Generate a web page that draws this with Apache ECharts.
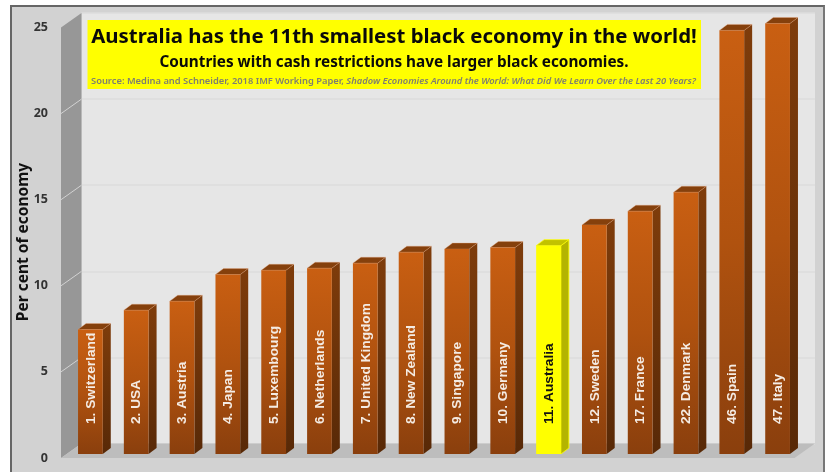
<!DOCTYPE html>
<html>
<head>
<meta charset="utf-8">
<style>
  html, body { margin: 0; padding: 0; background: #fff; }
  #panel { position: absolute; left: 10px; top: 5px; width: 811px; height: 480px; background: #d2d2d2; border: 2px solid #666; border-right-color: #777; box-sizing: content-box; }
  #stage { position: absolute; left: 0; top: 0; width: 827px; height: 472px; overflow: hidden; }
  #chart { position: absolute; left: 0; top: 0; width: 827px; height: 472px; }
</style>
</head>
<body>
<div id="stage"><div id="panel"></div><div id="chart"></div></div>
<script src="https://cdn.jsdelivr.net/npm/echarts@6/dist/echarts.min.js"></script>
<script>
// Shadow economy size by country, ranked; the number in each name is the world rank.
const categories = ['1. Switzerland', '2. USA', '3. Austria', '4. Japan', '5. Luxembourg', '6. Netherlands',
  '7. United Kingdom', '8. New Zealand', '9. Singapore', '10. Germany', '11. Australia', '12. Sweden',
  '17. France', '22. Denmark', '46. Spain', '47. Italy'];
const values = [7.23, 8.35, 8.87, 10.42, 10.67, 10.79, 11.08, 11.72, 11.9, 11.99, 12.1, 13.3, 14.1, 15.2, 24.6, 25.0];
const highlighted = '11. Australia';
const yTicks = [5, 10, 15, 20];
const axisTitle = 'Per cent of economy';
const headline = 'Australia has the 11th smallest black economy in the world!';
const subhead = 'Countries with cash restrictions have larger black economies.';
const sourcePlain = 'Source: Medina and Schneider, 2018 IMF Working Paper, ';
const sourceItalic = 'Shadow Economies Around the World: What Did We Learn Over the Last 20 Years?';

// Pseudo-3D box: three planes, front axis, bar plane and back wall, offset from one another.
const front = { left: 61, top: 27.5, width: 733.5, height: 430.5 };
const wallShift = [20.5, -14.5];
const barDepth = [8, -6];

const chart = echarts.init(document.getElementById('chart'), null, { renderer: 'canvas' });

function renderBox(params, api) {
  // Side wall and floor of the box, from the front plane to the back wall.
  const a = api.coord([0, 0]), b = api.coord([0, 25]), c = api.coord([1, 0]);
  const s = wallShift;
  const children = [
    { type: 'polygon', shape: { points: [a, b, [b[0] + s[0], b[1] + s[1]], [a[0] + s[0], a[1] + s[1]]] }, style: { fill: '#979797' } },
    { type: 'polygon', shape: { points: [a, c, [c[0] + s[0], c[1] + s[1]], [a[0] + s[0], a[1] + s[1]]] }, style: { fill: '#bdbdbd' } }
  ];
  yTicks.forEach(function (t) {
    const p = api.coord([0, t]);
    children.push({ type: 'line', shape: { x1: p[0], y1: p[1], x2: p[0] + s[0], y2: p[1] + s[1] }, style: { stroke: '#d2d2d2', lineWidth: 1 } });
  });
  return { type: 'group', children: children };
}

function renderBar(params, api) {
  const idx = api.value(0), val = api.value(1);
  const isHi = categories[idx] === highlighted;
  const top = api.coord([idx, val]), base = api.coord([idx, 0]);
  const w = api.size([1, 0])[0] * 0.54;
  const L = top[0] - w / 2, R = top[0] + w / 2, T = top[1], B = base[1];
  const dx = barDepth[0], dy = barDepth[1];
  const frontFill = isHi ? '#ffff00' : new echarts.graphic.LinearGradient(0, 0, 0, 1, [
    { offset: 0, color: '#c95f12' }, { offset: 0.5, color: '#b0520f' }, { offset: 1, color: '#8a3f0d' }]);
  const sideFill = isHi ? '#b4b400' : new echarts.graphic.LinearGradient(0, 0, 0, 1, [
    { offset: 0, color: '#7e3c0b' }, { offset: 1, color: '#582907' }]);
  const topFill = isHi ? '#c2c200' : '#85400c';
  const edge = isHi ? '#ffff00' : 'rgba(235,170,130,0.5)';
  return {
    type: 'group',
    children: [
      { type: 'polygon', shape: { points: [[R, T], [R, B], [R + dx, B + dy], [R + dx, T + dy]] }, style: { fill: sideFill, stroke: isHi ? edge : null, lineWidth: 0.8 } },
      { type: 'polygon', shape: { points: [[L, T], [R, T], [R + dx, T + dy], [L + dx, T + dy]] }, style: { fill: topFill, stroke: edge, lineWidth: 0.7 } },
      { type: 'rect', shape: { x: L, y: T, width: w, height: B - T }, style: { fill: frontFill } },
      {
        type: 'text', x: top[0] + 0.5, y: B - 30, rotation: Math.PI / 2,
        style: {
          text: categories[idx], fill: isHi ? '#111' : '#f4ebe3',
          font: 'bold 13.7px "Liberation Sans", Arial, sans-serif',
          align: 'left', verticalAlign: 'middle'
        }
      }
    ]
  };
}

chart.setOption({
  animation: false,
  backgroundColor: 'transparent',
  grid: [
    Object.assign({ containLabel: false }, front),
    { left: front.left + wallShift[0], top: front.top + wallShift[1], width: front.width, height: front.height,
      show: true, backgroundColor: '#e6e6e6', borderWidth: 0 },
    { left: 67.5, top: 23.5, width: 733, height: 430.5 }
  ],
  xAxis: [
    { gridIndex: 0, type: 'value', min: 0, max: 1, show: false },
    { gridIndex: 1, type: 'value', min: 0, max: 1, show: false },
    { gridIndex: 2, type: 'category', data: categories, show: false }
  ],
  yAxis: [
    {
      gridIndex: 0, type: 'value', min: 0, max: 25, interval: 5,
      axisLine: { show: false }, axisTick: { show: false }, splitLine: { show: false },
      axisLabel: { margin: 13, fontFamily: '"Noto Sans"', fontWeight: 700, fontSize: 12.5, color: '#333' }
    },
    {
      gridIndex: 1, type: 'value', min: 0, max: 25, interval: 5,
      axisLine: { show: false }, axisTick: { show: false }, axisLabel: { show: false },
      splitLine: { show: true, lineStyle: { color: '#dcdcdc', width: 1.5 } }
    },
    { gridIndex: 2, type: 'value', min: 0, max: 25, show: false, splitLine: { show: false } }
  ],
  series: [
    { type: 'custom', name: 'box', xAxisIndex: 0, yAxisIndex: 0, coordinateSystem: 'cartesian2d', data: [[0, 0]], renderItem: renderBox, silent: true, z: 1, clip: false },
    { type: 'custom', name: 'Per cent of economy', xAxisIndex: 2, yAxisIndex: 2, coordinateSystem: 'cartesian2d',
      data: values.map(function (v, i) { return [i, v]; }), encode: { x: 0, y: 1 }, renderItem: renderBar, z: 3, clip: false }
  ],
  graphic: [
    { type: 'text', z: 11, x: 24, y: 242, rotation: Math.PI / 2, style: { text: axisTitle, align: 'center', verticalAlign: 'middle', fill: '#111', font: '700 15.5px "Noto Sans"' } },
    { type: 'rect', z: 10, shape: { x: 87.5, y: 20, width: 613.5, height: 69 }, style: { fill: '#ffff00' } },
    { type: 'text', z: 11, x: 394, y: 37, style: { text: headline, align: 'center', verticalAlign: 'middle', fill: '#0a0a0a', font: '700 20.4px "Noto Sans"' } },
    { type: 'text', z: 11, x: 394, y: 63, style: { text: subhead, align: 'center', verticalAlign: 'middle', fill: '#0a0a0a', font: '700 15.3px "Noto Sans"' } },
    { type: 'text', z: 11, x: 91, y: 81, style: {
        text: '{a|' + sourcePlain + '}{b|' + sourceItalic + '}', verticalAlign: 'middle', align: 'left',
        rich: {
          a: { fill: '#7f7f70', font: '600 9.35px "Noto Sans"' },
          b: { fill: '#7f7f70', font: 'italic 600 9.35px "Noto Sans"' }
        }
      } }
  ]
});
</script>
</body>
</html>
